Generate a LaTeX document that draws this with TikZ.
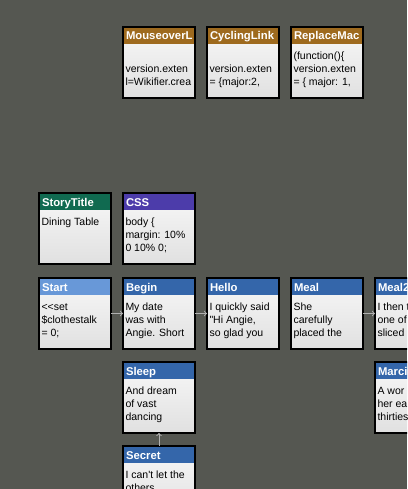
\documentclass[tikz,border=0pt]{standalone}
\usepackage{fontspec}
\setmainfont[Ligatures=TeXOff]{Liberation Sans}
\definecolor{bgcol}{RGB}{85,87,81}
\definecolor{hbrown}{RGB}{158,106,30}
\definecolor{hgreen}{RGB}{16,106,80}
\definecolor{hpurple}{RGB}{76,60,170}
\definecolor{hstart}{RGB}{104,152,216}
\definecolor{hblue}{RGB}{52,102,170}
\definecolor{linkgray}{RGB}{176,176,176}
\begin{document}
\begin{tikzpicture}[x=1pt,y=1pt]
\tikzstyle{every node}+=[inner sep=0pt, outer sep=0pt]
\tikzstyle{psg}=[minimum width=72pt, minimum height=71pt, top color=white!97!black, bottom color=white!88!black]
\tikzstyle{pframe}=[draw=black, line width=1.5pt]
\tikzstyle{ptitle}=[anchor=base west, text=white, font=\fontsize{11.3}{13}\selectfont\bfseries]
\tikzstyle{pbody}=[anchor=north west, align=left, font=\fontsize{10.5}{13}\selectfont]
\tikzstyle{link}=[draw=linkgray, line width=1pt, ->]
\useasboundingbox (0,0) rectangle (407,-489);
\fill [bgcol] (0,0) rectangle (407,-489);
\clip (0,0) rectangle (407,-489);
% top row
\node [psg] (mouse) at (159,-62.5) {};
\begin{scope} \clip (mouse.north west) rectangle (mouse.south east);
\fill [hbrown] (mouse.north west) rectangle ([yshift=-17]mouse.north east);
\node [ptitle] (mouse-t) at ([shift={(3,-13)}]mouse.north west) {MouseoverL};
\node [pbody] (mouse-b) at ([shift={(2.5,-23.3)}]mouse.north west) {\strut\\version.exten\\l=Wikifier.crea};
\end{scope} \draw [pframe] (mouse.north west) rectangle (mouse.south east);
\node [psg] (cycle) at (243,-62.5) {};
\begin{scope} \clip (cycle.north west) rectangle (cycle.south east);
\fill [hbrown] (cycle.north west) rectangle ([yshift=-17]cycle.north east);
\node [ptitle] (cycle-t) at ([shift={(3,-13)}]cycle.north west) {CyclingLink};
\node [pbody] (cycle-b) at ([shift={(2.5,-23.3)}]cycle.north west) {\strut\\version.exten\\= \{major:2,};
\end{scope} \draw [pframe] (cycle.north west) rectangle (cycle.south east);
\node [psg] (replace) at (327,-62.5) {};
\begin{scope} \clip (replace.north west) rectangle (replace.south east);
\fill [hbrown] (replace.north west) rectangle ([yshift=-17]replace.north east);
\node [ptitle] (replace-t) at ([shift={(3,-13)}]replace.north west) {ReplaceMac};
\node [pbody] (replace-b) at ([shift={(2.5,-23.3)}]replace.north west) {\strut(function()\{\\version.exten\\= \{ major: 1,};
\end{scope} \draw [pframe] (replace.north west) rectangle (replace.south east);
% story title and stylesheet
\node [psg] (title) at (75,-228.5) {};
\begin{scope} \clip (title.north west) rectangle (title.south east);
\fill [hgreen] (title.north west) rectangle ([yshift=-17]title.north east);
\node [ptitle] (title-t) at ([shift={(3,-13)}]title.north west) {StoryTitle};
\node [pbody] (title-b) at ([shift={(2.5,-23.3)}]title.north west) {\strut Dining Table};
\end{scope} \draw [pframe] (title.north west) rectangle (title.south east);
\node [psg] (css) at (159,-228.5) {};
\begin{scope} \clip (css.north west) rectangle (css.south east);
\fill [hpurple] (css.north west) rectangle ([yshift=-17]css.north east);
\node [ptitle] (css-t) at ([shift={(3,-13)}]css.north west) {CSS};
\node [pbody] (css-b) at ([shift={(2.5,-23.3)}]css.north west) {\strut body \{\\margin: 10\%\\0 10\% 0;};
\end{scope} \draw [pframe] (css.north west) rectangle (css.south east);
% story row
\node [psg] (start) at (75,-313.5) {};
\begin{scope} \clip (start.north west) rectangle (start.south east);
\fill [hstart] (start.north west) rectangle ([yshift=-17]start.north east);
\node [ptitle] (start-t) at ([shift={(3,-13)}]start.north west) {Start};
\node [pbody] (start-b) at ([shift={(2.5,-23.3)}]start.north west) {\strut<<set\\\$clothestalk\\= 0;};
\end{scope} \draw [pframe] (start.north west) rectangle (start.south east);
\node [psg] (begin) at (159,-313.5) {};
\begin{scope} \clip (begin.north west) rectangle (begin.south east);
\fill [hblue] (begin.north west) rectangle ([yshift=-17]begin.north east);
\node [ptitle] (begin-t) at ([shift={(3,-13)}]begin.north west) {Begin};
\node [pbody] (begin-b) at ([shift={(2.5,-23.3)}]begin.north west) {\strut My date\\was with\\Angie. Short};
\end{scope} \draw [pframe] (begin.north west) rectangle (begin.south east);
\node [psg] (hello) at (243,-313.5) {};
\begin{scope} \clip (hello.north west) rectangle (hello.south east);
\fill [hblue] (hello.north west) rectangle ([yshift=-17]hello.north east);
\node [ptitle] (hello-t) at ([shift={(3,-13)}]hello.north west) {Hello};
\node [pbody] (hello-b) at ([shift={(2.5,-23.3)}]hello.north west) {\strut I quickly said\\"Hi Angie,\\so glad you};
\end{scope} \draw [pframe] (hello.north west) rectangle (hello.south east);
\node [psg] (meal) at (327,-313.5) {};
\begin{scope} \clip (meal.north west) rectangle (meal.south east);
\fill [hblue] (meal.north west) rectangle ([yshift=-17]meal.north east);
\node [ptitle] (meal-t) at ([shift={(3,-13)}]meal.north west) {Meal};
\node [pbody] (meal-b) at ([shift={(2.5,-23.3)}]meal.north west) {\strut She\\carefully\\placed the};
\end{scope} \draw [pframe] (meal.north west) rectangle (meal.south east);
\node [psg] (meal2) at (411,-313.5) {};
\begin{scope} \clip (meal2.north west) rectangle (meal2.south east);
\fill [hblue] (meal2.north west) rectangle ([yshift=-17]meal2.north east);
\node [ptitle] (meal2-t) at ([shift={(3,-13)}]meal2.north west) {Meal2};
\node [pbody] (meal2-b) at ([shift={(2.5,-23.3)}]meal2.north west) {\strut I then t\\one of\\sliced};
\end{scope} \draw [pframe] (meal2.north west) rectangle (meal2.south east);
% lower passages
\node [psg] (sleep) at (159,-397.5) {};
\begin{scope} \clip (sleep.north west) rectangle (sleep.south east);
\fill [hblue] (sleep.north west) rectangle ([yshift=-17]sleep.north east);
\node [ptitle] (sleep-t) at ([shift={(3,-13)}]sleep.north west) {Sleep};
\node [pbody] (sleep-b) at ([shift={(2.5,-23.3)}]sleep.north west) {\strut And dream\\of vast\\dancing};
\end{scope} \draw [pframe] (sleep.north west) rectangle (sleep.south east);
\node [psg] (marci) at (411,-397.5) {};
\begin{scope} \clip (marci.north west) rectangle (marci.south east);
\fill [hblue] (marci.north west) rectangle ([yshift=-17]marci.north east);
\node [ptitle] (marci-t) at ([shift={(3,-13)}]marci.north west) {Marci};
\node [pbody] (marci-b) at ([shift={(2.5,-23.3)}]marci.north west) {\strut A wor\\her ea\\thirties};
\end{scope} \draw [pframe] (marci.north west) rectangle (marci.south east);
\node [psg] (secret) at (159,-481.5) {};
\begin{scope} \clip (secret.north west) rectangle (secret.south east);
\fill [hblue] (secret.north west) rectangle ([yshift=-17]secret.north east);
\node [ptitle] (secret-t) at ([shift={(3,-13)}]secret.north west) {Secret};
\node [pbody] (secret-b) at ([shift={(2.5,-23.3)}]secret.north west) {\strut I can't let the\\others};
\end{scope} \draw [pframe] (secret.north west) rectangle (secret.south east);
% links
\draw [link] (start) -- (begin);
\draw [link] (begin) -- (hello);
\draw [link] (meal) -- (meal2);
\draw [link] (secret) -- (sleep);
\end{tikzpicture}
\end{document}
